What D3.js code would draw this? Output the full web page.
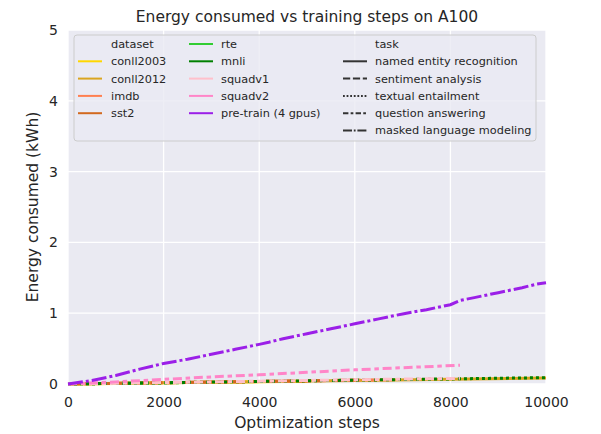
<!DOCTYPE html>
<html>
<head>
<meta charset="utf-8">
<script src="https://cdn.jsdelivr.net/npm/d3@7"></script>
<style>
  body { margin: 0; background: white; }
  text { font-family: "DejaVu Sans", sans-serif; fill: #262626; }
</style>
</head>
<body>
<svg id="chart" width="601" height="434"></svg>
<script>
// tick values
const xTicks = [0, 2000, 4000, 6000, 8000, 10000];
const yTicks = [0, 1, 2, 3, 4, 5];

// series (steps / kWh)
const conll2003Steps = [0, 1000, 2000, 3000, 4000, 5000];
const conll2003Energy = [0, 0.008, 0.016, 0.024, 0.032, 0.04];
const conll2012Steps = [0, 2000, 4000, 6000, 8000, 10000];
const conll2012Energy = [0, 0.017, 0.034, 0.051, 0.068, 0.085];
const imdbSteps = [0, 2000, 4000, 6000, 6800];
const imdbEnergy = [0, 0.018, 0.036, 0.054, 0.061];
const sst2Steps = [0, 2000, 4000, 6000];
const sst2Energy = [0, 0.018, 0.036, 0.055];
const rteSteps = [0, 1000, 2500];
const rteEnergy = [0, 0.008, 0.02];
const mnliSteps = [0, 2000, 4000, 6000, 8000, 10000];
const mnliEnergy = [0, 0.018, 0.036, 0.054, 0.072, 0.09];
const squadv1Steps = [0, 2000, 4000, 6000, 8200];
const squadv1Energy = [0, 0.02, 0.04, 0.06, 0.08];
const squadv2Steps = [0, 1000, 2000, 3000, 4000, 5000, 6000, 7000, 8200];
const squadv2Energy = [0, 0.03, 0.065, 0.1, 0.13, 0.165, 0.2, 0.23, 0.265];
const pretrainSteps = [0, 500, 1000, 1500, 2000, 2500, 3000, 3500, 4000, 4200, 4500, 5000, 5500, 6000, 6500, 7000, 7500, 8000, 8200, 8500, 9000, 9500, 9800, 10000];
const pretrainEnergy = [0, 0.05, 0.12, 0.21, 0.29, 0.35, 0.42, 0.49, 0.56, 0.59, 0.64, 0.71, 0.78, 0.85, 0.92, 0.99, 1.05, 1.12, 1.18, 1.22, 1.29, 1.36, 1.41, 1.43];

// task -> dash pattern (seaborn defaults, in linewidth units)
const tasks = ["named entity recognition", "sentiment analysis", "textual entailment", "question answering", "masked language modeling"];
const dashes = [null, [4, 1.5], [1, 1], [3, 1.25, 1.5, 1.25], [5, 1, 1, 1]];

const series = [
  { name: "conll2003", color: "#FFD700", task: 0, x: conll2003Steps, y: conll2003Energy },
  { name: "conll2012", color: "#DAA520", task: 0, x: conll2012Steps, y: conll2012Energy },
  { name: "imdb", color: "#FF7F50", task: 1, x: imdbSteps, y: imdbEnergy },
  { name: "sst2", color: "#D2691E", task: 1, x: sst2Steps, y: sst2Energy },
  { name: "rte", color: "#32CD32", task: 2, x: rteSteps, y: rteEnergy },
  { name: "mnli", color: "#008000", task: 2, x: mnliSteps, y: mnliEnergy },
  { name: "squadv1", color: "#FFC0CB", task: 3, x: squadv1Steps, y: squadv1Energy },
  { name: "squadv2", color: "#FF85C8", task: 3, x: squadv2Steps, y: squadv2Energy },
  { name: "pre-train (4 gpus)", color: "#9B1FE8", task: 4, x: pretrainSteps, y: pretrainEnergy }
];

const margin = { top: 30, right: 55, bottom: 50, left: 68 };
const width = 601 - margin.left - margin.right,
      height = 434 - margin.top - margin.bottom;

const svg = d3.select("#chart");
const g = svg.append("g").attr("transform", `translate(${margin.left},${margin.top})`);

const x = d3.scaleLinear().domain([0, 10000]).range([0, width]);
const y = d3.scaleLinear().domain([0, 5]).range([height, 0]);

g.append("rect").attr("width", width).attr("height", height).attr("fill", "#EAEAF2");

// grid
g.selectAll(".vgrid").data(xTicks).enter().append("line")
  .attr("x1", d => x(d)).attr("x2", d => x(d)).attr("y1", 0).attr("y2", height)
  .attr("stroke", "white").attr("stroke-width", 1.3);
g.selectAll(".hgrid").data(yTicks).enter().append("line")
  .attr("y1", d => y(d)).attr("y2", d => y(d)).attr("x1", 0).attr("x2", width)
  .attr("stroke", "white").attr("stroke-width", 1.3);

// axes (no domain lines, just labels)
const xAxis = g.append("g").attr("transform", `translate(0,${height})`)
  .call(d3.axisBottom(x).tickValues(xTicks).tickFormat(d3.format("d")).tickSize(0).tickPadding(13));
const yAxis = g.append("g")
  .call(d3.axisLeft(y).tickValues(yTicks).tickFormat(d3.format("d")).tickSize(0).tickPadding(10));
[xAxis, yAxis].forEach(a => {
  a.select(".domain").remove();
  a.selectAll("text").attr("font-size", 14).attr("fill", "#262626")
    .attr("font-family", "DejaVu Sans, sans-serif");
});

// lines
const lw = 3;
const line = d3.line().x(d => x(d[0])).y(d => y(d[1]));
g.selectAll(".series").data(series).enter().append("path")
  .attr("d", s => line(s.x.map((v, i) => [v, s.y[i]])))
  .attr("fill", "none")
  .attr("stroke", s => s.color)
  .attr("stroke-width", lw)
  .attr("stroke-dasharray", s => dashes[s.task] ? dashes[s.task].map(v => v * lw).join(",") : null);

// titles
svg.append("text").attr("x", margin.left + width / 2).attr("y", 22)
  .attr("text-anchor", "middle").attr("font-size", 15.5).text("Energy consumed vs training steps on A100");
svg.append("text").attr("x", margin.left + width / 2).attr("y", 428)
  .attr("text-anchor", "middle").attr("font-size", 15.5).text("Optimization steps");
svg.append("text").attr("transform", `translate(38,${margin.top + height / 2}) rotate(-90)`)
  .attr("text-anchor", "middle").attr("font-size", 15.5).text("Energy consumed (kWh)");

// legend
const leg = svg.append("g");
leg.append("rect").attr("x", 74).attr("y", 35).attr("width", 462).attr("height", 106)
  .attr("rx", 3).attr("fill", "#EAEAF2").attr("fill-opacity", 0.8)
  .attr("stroke", "#cccccc").attr("stroke-width", 1);

const rowH = 17.3, row0 = 44;
const legItems = [{ label: "dataset", header: true }]
  .concat(series.map(s => ({ label: s.name, color: s.color, dash: null })))
  .concat([{ label: "task", header: true }])
  .concat(tasks.map((t, i) => ({ label: t, color: "#333333", dash: dashes[i] })));
const cols = [{ hx: 78, tx: 111 }, { hx: 189, tx: 221 }, { hx: 343, tx: 375 }];
const colStart = [0, 5, 10];
const llw = 2;
legItems.forEach((it, i) => {
  const ci = i >= colStart[2] ? 2 : i >= colStart[1] ? 1 : 0;
  const c = cols[ci], r = i - colStart[ci];
  const cy = row0 + r * rowH;
  if (!it.header) {
    leg.append("line").attr("x1", c.hx).attr("x2", c.hx + 24).attr("y1", cy).attr("y2", cy)
      .attr("stroke", it.color).attr("stroke-width", llw)
      .attr("stroke-dasharray", it.dash ? it.dash.map(v => v * llw * 0.9).join(",") : null);
  }
  leg.append("text").attr("x", c.tx).attr("y", cy).attr("dy", "0.35em")
    .attr("font-size", 11.3).text(it.label);
});
</script>
</body>
</html>
